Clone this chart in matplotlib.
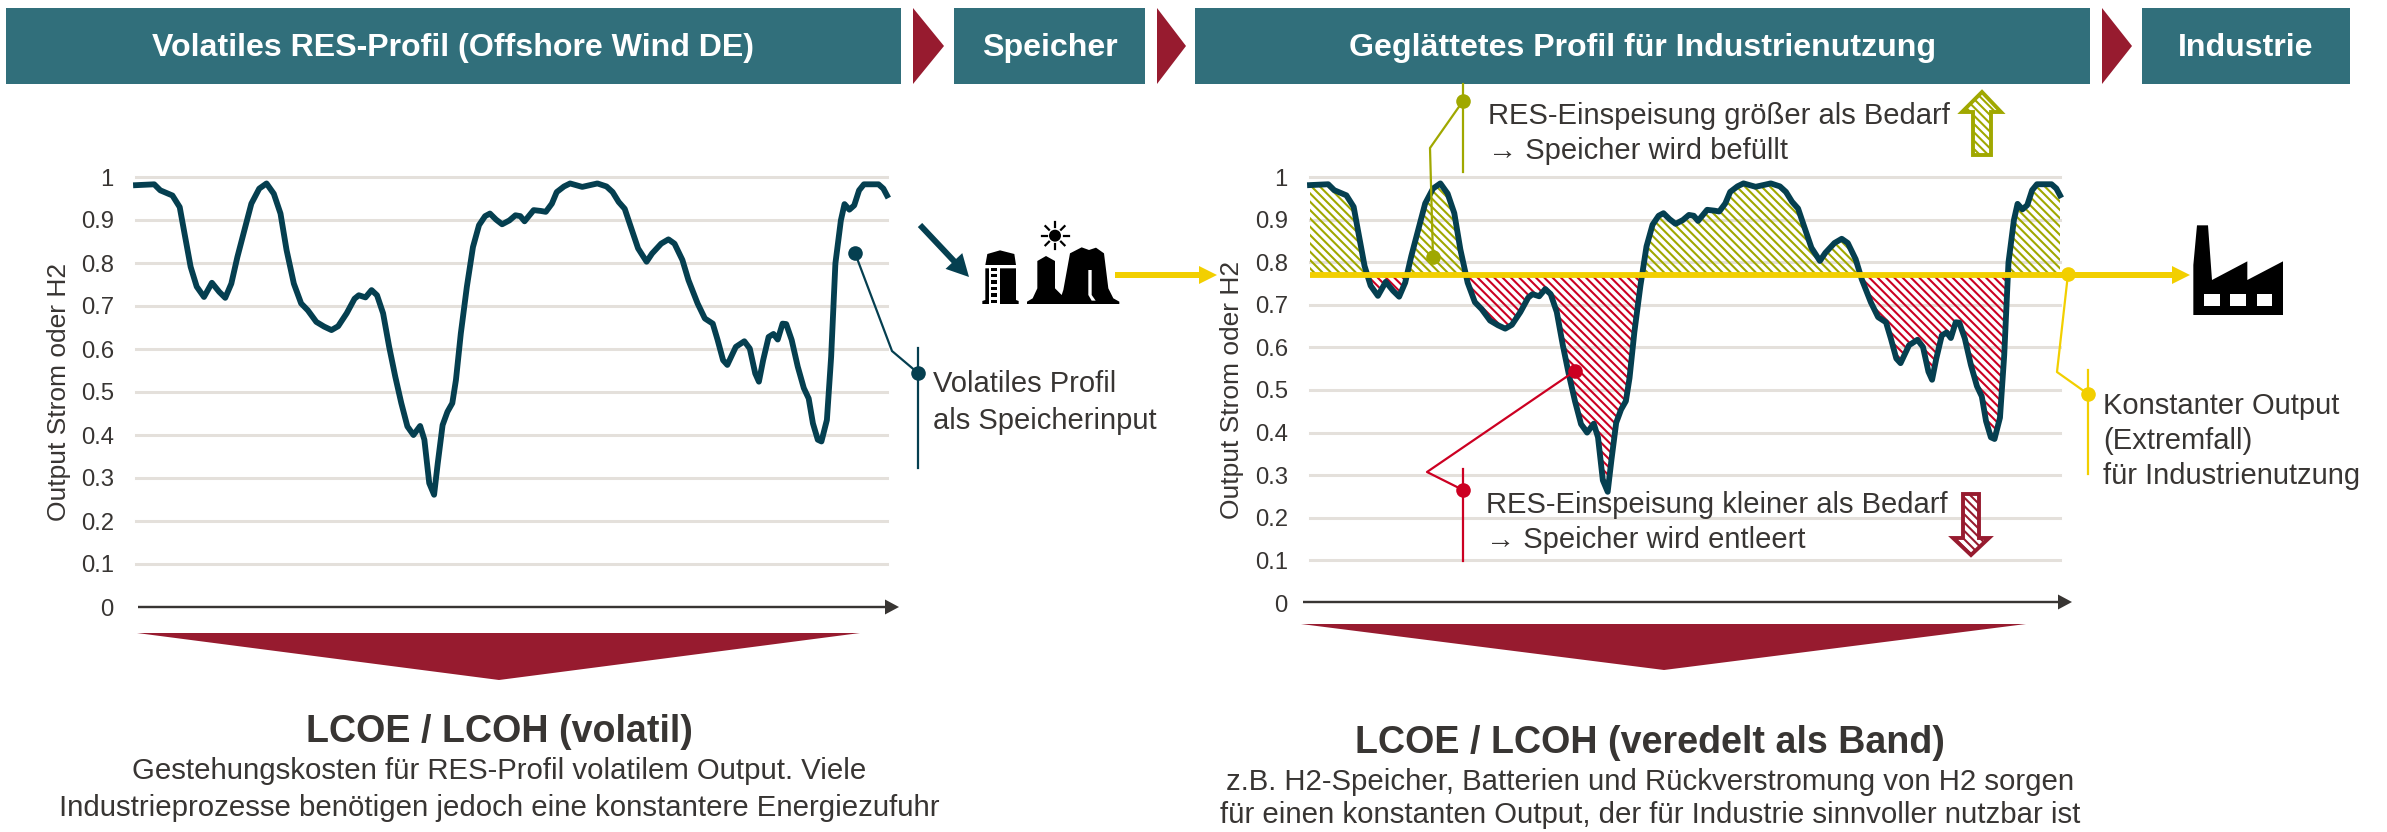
import numpy as np
import matplotlib
matplotlib.use('Agg')
import matplotlib.pyplot as plt
from matplotlib.patches import Polygon, Rectangle, Circle, FancyArrow

plt.rcParams['font.family'] = ['Liberation Sans', 'DejaVu Sans']
plt.rcParams['hatch.linewidth'] = 1.5

# profile, time in arbitrary units along the axis
time = [0, 15, 30, 40, 60, 72, 80, 90, 100, 112, 125, 137, 147, 157, 167, 177, 190, 203, 215, 227,
        238, 248, 260, 272, 283, 297, 310, 322, 333, 347, 360, 367, 378, 388, 397, 407, 417, 427,
        437, 447, 457, 468, 475, 483, 491, 497, 505, 513, 521, 527, 535, 545, 555, 565, 575, 583,
        593, 603, 615, 625, 633, 640, 655, 667, 675, 685, 693, 705, 715, 735, 760, 775, 785, 795,
        805, 815, 827, 841, 850, 865, 877, 887, 900, 910, 925, 937, 950, 958, 967, 974, 988, 1002,
        1011, 1020, 1026, 1033, 1042, 1050, 1057, 1065, 1071, 1080, 1090, 1100, 1108, 1115, 1123,
        1129, 1138, 1145, 1152, 1161, 1167, 1175, 1183, 1191, 1199, 1223, 1231, 1237]
output = [.981, .982, .983, .969, .957, .930, .868, .791, .745, .721, .754, .733, .719, .752, .814,
          .868, .938, .973, .985, .961, .915, .830, .752, .706, .690, .663, .652, .644, .653, .683,
          .717, .725, .720, .737, .725, .683, .605, .536, .474, .420, .400, .421, .389, .288, .261,
          .334, .423, .454, .474, .528, .636, .745, .837, .888, .909, .915, .901, .890, .899, .911,
          .909, .897, .923, .921, .919, .938, .965, .978, .985, .977, .985, .978, .965, .942, .926,
          .884, .834, .803, .822, .845, .855, .845, .807, .760, .706, .671, .659, .621, .574, .563,
          .605, .618, .601, .543, .524, .574, .628, .635, .622, .659, .658, .621, .559, .509, .485,
          .427, .389, .385, .435, .582, .799, .899, .937, .924, .934, .969, .983, .983, .973, .957]
band_level = 0.77
y_ticks = [0, .1, .2, .3, .4, .5, .6, .7, .8, .9, 1]
y_labels = ['0', '0.1', '0.2', '0.3', '0.4', '0.5', '0.6', '0.7', '0.8', '0.9', '1']

TEAL = '#316F7B'
CURVE = '#053F50'
WINE = '#971B2F'
YELLOW = '#F2CF00'
OLIVE = '#A0A800'
RED = '#CC0022'
GRID = '#E4E0DB'
TXT = '#383533'
W, H = 2387, 832

time = np.array(time, dtype=float)
output = np.array(output)

fig = plt.figure(figsize=(W / 100, H / 100), dpi=100)


def chart(x0, x1, y0, y1, lab_x, lab_y):
    ax = fig.add_axes([x0 / W, (H - y0) / H, (x1 - x0) / W, (y0 - y1) / H])
    ax.set_xlim(time[0], time[-1])
    ax.set_ylim(0, 1)
    ax.patch.set_alpha(0)
    for s in ax.spines.values():
        s.set_visible(False)
    ax.set_xticks([])
    ax.set_yticks(y_ticks)
    ax.set_yticklabels(y_labels)
    ax.tick_params(axis='y', length=0, pad=16, labelsize=17.2, labelcolor=TXT)
    for v in y_ticks[1:]:
        ax.plot([time[0], time[-1]], [v, v], color=GRID, lw=2.2, zorder=1, clip_on=False)
    ax.plot(time, output, color=CURVE, lw=4.2, zorder=4, clip_on=False, solid_joinstyle='round')
    fig.text(lab_x / W, 1 - lab_y / H, 'Output Strom oder H2', rotation=90,
             ha='center', va='center', fontsize=19, color=TXT)
    return ax


ax1 = chart(136, 887, 607, 177, 59, 392)
ax2 = chart(1310, 2060, 603, 177, 1232, 390)

ax2.fill_between(time, output, band_level, where=output >= band_level, interpolate=True,
                 facecolor='none', edgecolor=OLIVE, hatch='\\\\\\\\', linewidth=0, zorder=2)
ax2.fill_between(time, output, band_level, where=output <= band_level, interpolate=True,
                 facecolor='none', edgecolor=RED, hatch='\\\\\\\\', linewidth=0, zorder=2)
ax2.plot([time[0], time[-1]], [band_level, band_level], color=YELLOW, lw=4.2, zorder=5,
         solid_capstyle='butt')

# overlay in pixel coordinates for all the slide shapes
ov = fig.add_axes([0, 0, 1, 1], zorder=10)
ov.set_xlim(0, W)
ov.set_ylim(H, 0)
ov.axis('off')
ov.patch.set_alpha(0)

# header row
for x0, x1, label in [(6, 901, 'Volatiles RES-Profil (Offshore Wind DE)'),
                      (954, 1145, 'Speicher'),
                      (1195, 2090, 'Geglättetes Profil für Industrienutzung'),
                      (2142, 2350, 'Industrie')]:
    ov.add_patch(Rectangle((x0, 8), x1 - x0, 76, fc=TEAL, ec='none'))
    ov.text((x0 + x1) / 2, 48, label, color='white', fontweight='bold', fontsize=23.1,
            ha='center', va='center')
for x0, x1 in [(913, 944), (1157, 1186), (2102, 2132)]:
    ov.add_patch(Polygon([(x0, 8), (x1, 46), (x0, 84)], fc=WINE, ec='none'))

# x axis arrows
for x0, x1, y in [(138, 899, 607), (1303, 2072, 602)]:
    ov.add_patch(FancyArrow(x0, y, x1 - x0, 0, width=2.4, head_width=15, head_length=14,
                            length_includes_head=True, fc=TXT, ec='none'))

# wine triangles under the charts
ov.add_patch(Polygon([(137, 633), (860, 633), (499, 680)], fc=WINE, ec='none'))
ov.add_patch(Polygon([(1301, 624), (2026, 624), (1664, 670)], fc=WINE, ec='none'))

# bottom texts
for x, y, s, size, weight in [
        (499, 732, 'LCOE / LCOH (volatil)', 27.1, 'bold'),
        (499, 771, 'Gestehungskosten für RES-Profil volatilem Output. Viele', 21.2, 'normal'),
        (499, 808, 'Industrieprozesse benötigen jedoch eine konstantere Energiezufuhr', 21.2, 'normal'),
        (1650, 743, 'LCOE / LCOH (veredelt als Band)', 27.1, 'bold'),
        (1650, 782, 'z.B. H2-Speicher, Batterien und Rückverstromung von H2 sorgen', 21.2, 'normal'),
        (1650, 815, 'für einen konstanten Output, der für Industrie sinnvoller nutzbar ist', 21.2, 'normal')]:
    ov.text(x, y, s, fontsize=size, fontweight=weight, color=TXT, ha='center', va='center')


def callout(pts, stem_x, stem_y0, stem_y1, color):
    xs = [p[0] for p in pts]
    ys = [p[1] for p in pts]
    ov.plot(xs, ys, color=color, lw=1.6)
    ov.plot([stem_x, stem_x], [stem_y0, stem_y1], color=color, lw=1.6)
    ov.plot([xs[0], xs[-1]], [ys[0], ys[-1]], ls='none', marker='o', ms=10.5, color=color, mew=0)


callout([(855, 253), (892, 351), (918, 373)], 918, 348, 468, CURVE)
callout([(1433, 257), (1430, 148), (1463, 101)], 1463, 84, 172, OLIVE)
callout([(1575, 371), (1427, 472), (1463, 490)], 1463, 469, 561, RED)
callout([(2068, 274), (2057, 372), (2088, 394)], 2088, 370, 474, YELLOW)

for x, y, s in [(933, 384, 'Volatiles Profil'), (933, 421, 'als Speicherinput'),
                (1488, 116, 'RES-Einspeisung größer als Bedarf'), (1488, 151, '→ Speicher wird befüllt'),
                (1486, 505, 'RES-Einspeisung kleiner als Bedarf'), (1486, 540, '→ Speicher wird entleert'),
                (2103, 406, 'Konstanter Output'), (2103, 441, '(Extremfall)'),
                (2103, 476, 'für Industrienutzung')]:
    ov.text(x, y, s, fontsize=21, color=TXT, ha='left', va='center')

# flow arrows
ov.add_patch(FancyArrow(920, 225, 49, 52, width=6, head_width=23, head_length=22,
                        length_includes_head=True, fc=CURVE, ec='none'))
ov.add_patch(FancyArrow(1115, 275, 102, 0, width=6, head_width=18, head_length=18,
                        length_includes_head=True, fc=YELLOW, ec='none'))
ov.add_patch(FancyArrow(2055, 275, 135, 0, width=6, head_width=18, head_length=18,
                        length_includes_head=True, fc=YELLOW, ec='none'))

# hatched up / down arrows
up = [(1982, 92), (2001, 112), (1991, 112), (1991, 155), (1973, 155), (1973, 112), (1962, 112)]
ov.add_patch(Polygon(up, fc='white', ec=OLIVE, hatch='\\\\\\\\', lw=2.8))
down = [(1971, 555), (1953, 538), (1963, 538), (1963, 494), (1979, 494), (1979, 538), (1989, 538)]
ov.add_patch(Polygon(down, fc='white', ec=WINE, hatch='\\\\\\\\', lw=2.8))


# storage icons, points taken from a 3x crop with origin (880, 190)
def icon(pts, fc='black'):
    ov.add_patch(Polygon([(880 + x / 3, 190 + y / 3) for x, y in pts], fc=fc, ec='none'))


icon([(316, 225), (322, 192), (360, 181), (403, 192), (408, 225)])
icon([(316, 235), (327, 235), (327, 342), (307, 342), (307, 333), (316, 330)])
icon([(360, 235), (408, 235), (408, 330), (416, 333), (416, 342), (360, 342)])
for yy in (233, 252, 271, 290, 310, 330):
    icon([(334, yy), (351, yy), (351, yy + 10), (334, yy + 10)])
icon([(441, 342), (441, 335), (458, 325), (472, 295), (472, 213), (498, 198), (525, 213), (525, 295),
      (545, 315), (550, 300), (570, 190), (605, 172), (627, 180), (648, 173), (672, 190), (685, 295),
      (700, 325), (718, 335), (718, 342)])
icon([(625, 240), (635, 240), (635, 315), (647, 332), (635, 332), (625, 315)], 'white')
ov.add_patch(Circle((880 + 525 / 3, 190 + 137 / 3), 6, fc='black', ec='none'))
for ang in np.arange(0, 360, 45):
    c, s = np.cos(np.radians(ang)), np.sin(np.radians(ang))
    ov.plot([1055 + 8.5 * c, 1055 + 13.5 * c], [235.7 + 8.5 * s, 235.7 + 13.5 * s], color='black', lw=1.6)

# factory, from a 3x crop with origin (2130, 200)
factory = [(190, 345), (190, 195), (201, 76), (234, 76), (246, 240), (352, 184), (352, 240), (459, 184), (459, 345)]
ov.add_patch(Polygon([(2130 + x / 3, 200 + y / 3) for x, y in factory], fc='black', ec='none'))
for xa, xb in [(221, 269), (301, 348), (380, 427)]:
    ov.add_patch(Rectangle((2130 + xa / 3, 200 + 283 / 3), (xb - xa) / 3, 35 / 3, fc='white', ec='none'))

plt.savefig('out.png', dpi=100)
